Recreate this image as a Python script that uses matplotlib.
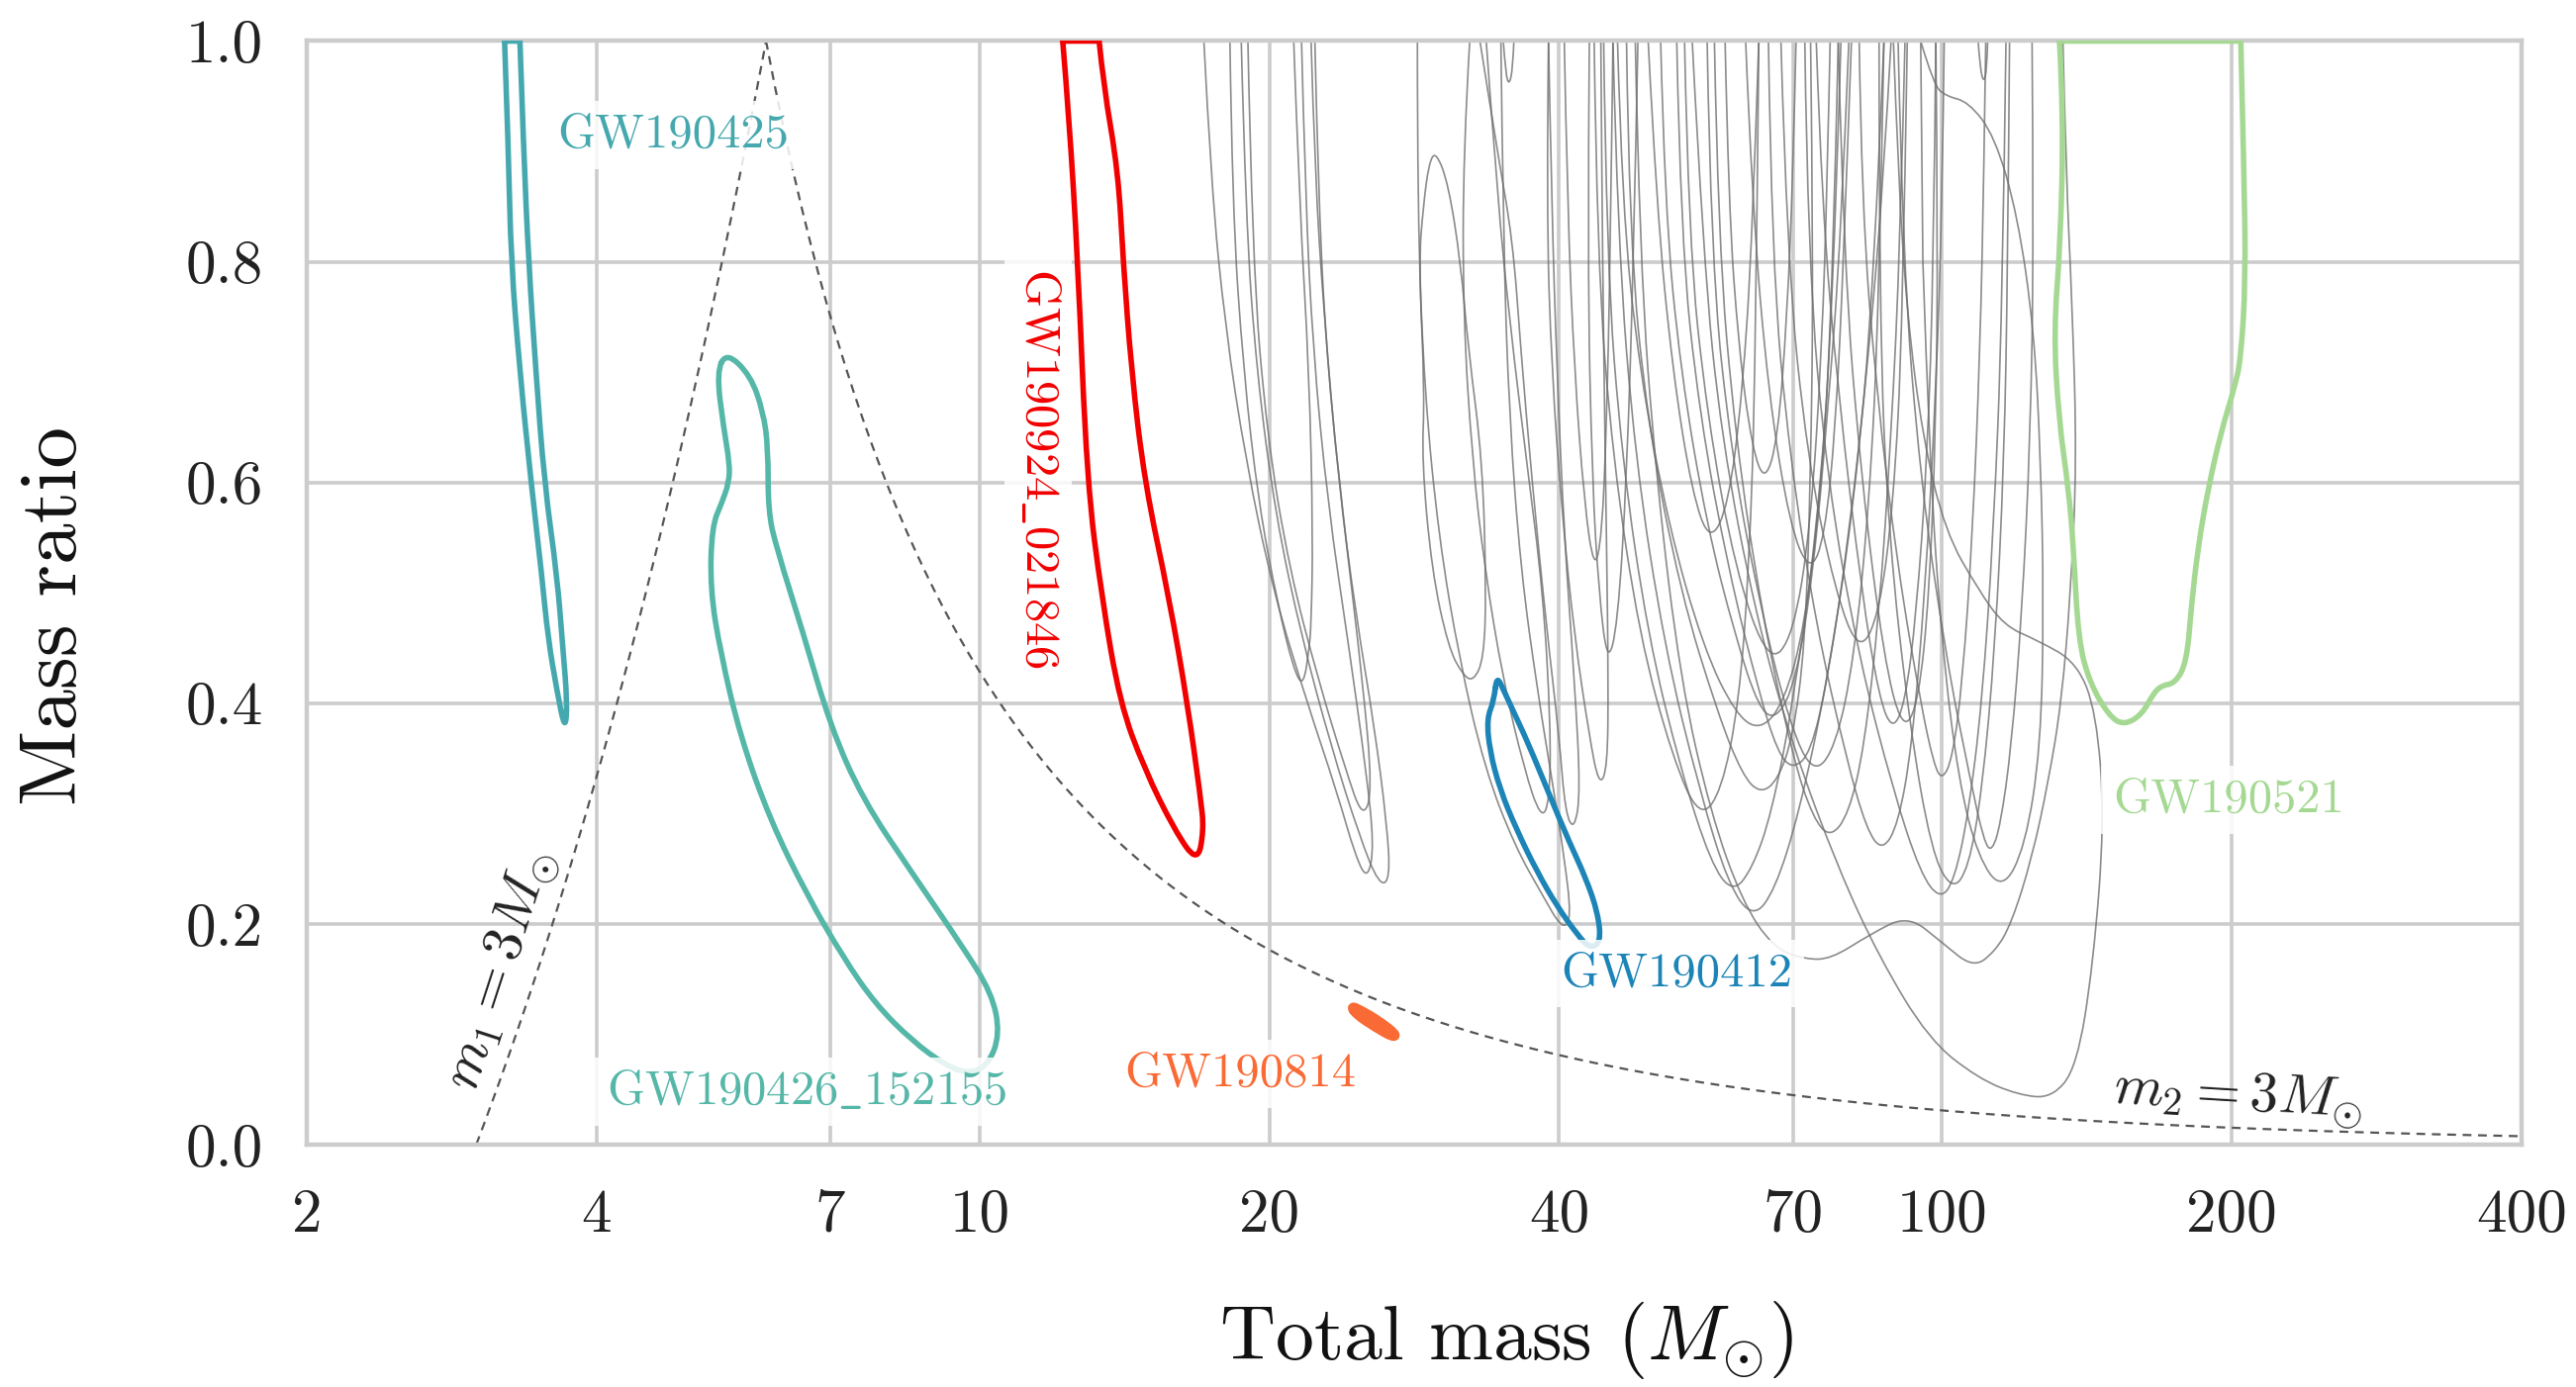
import matplotlib
matplotlib.use("Agg")
import matplotlib.pyplot as plt
import numpy as np
from matplotlib.path import Path
from matplotlib.patches import PathPatch

plt.rcParams["font.family"] = ["cmr10", "DejaVu Serif"]
plt.rcParams["mathtext.fontset"] = "cm"
plt.rcParams["axes.formatter.use_mathtext"] = True

# axis ticks
mass_ticks = [2, 4, 7, 10, 20, 40, 70, 100, 200, 400]
ratio_ticks = [0.0, 0.2, 0.4, 0.6, 0.8, 1.0]

# highlighted 90% contours, (total mass, mass ratio)
gw190425 = [(3.21, 1.0), (3.24, 0.9), (3.26, 0.8), (3.33, 0.7), (3.42, 0.6), (3.51, 0.515),
            (3.56, 0.46), (3.64, 0.41), (3.71, 0.375), (3.73, 0.40), (3.69, 0.45),
            (3.64, 0.515), (3.53, 0.6), (3.46, 0.7), (3.40, 0.8), (3.36, 0.9), (3.33, 1.0), (3.21, 1.0)]
gw190426 = [(5.46, 0.718), (5.78, 0.697), (5.96, 0.664), (6.03, 0.631), (6.03, 0.574), (6.15, 0.541),
            (6.55, 0.465), (7.0, 0.379), (7.56, 0.313), (8.51, 0.246), (9.59, 0.180), (10.30, 0.137),
            (10.50, 0.100), (10.21, 0.072), (9.74, 0.064), (9.21, 0.072), (8.51, 0.094), (7.80, 0.127),
            (7.21, 0.170), (6.61, 0.227), (6.06, 0.294), (5.64, 0.370), (5.38, 0.446), (5.25, 0.503),
            (5.27, 0.560), (5.40, 0.582), (5.49, 0.600), (5.50, 0.617), (5.42, 0.650), (5.33, 0.700),
            (5.46, 0.718)]
gw190924 = [(12.20, 1.0), (12.38, 0.934), (12.65, 0.8), (12.93, 0.6), (13.40, 0.495), (13.99, 0.4),
            (14.84, 0.340), (15.94, 0.285), (16.84, 0.255), (17.10, 0.285), (16.97, 0.314),
            (16.44, 0.4), (15.74, 0.495), (14.84, 0.6), (14.38, 0.701), (14.10, 0.8), (13.93, 0.882),
            (13.45, 0.960), (13.31, 1.0), (12.20, 1.0)]
gw190814 = [(24.3, 0.126), (25.0, 0.121), (26.0, 0.112), (27.1, 0.100), (26.9, 0.097),
            (25.8, 0.106), (24.6, 0.118), (24.3, 0.126)]
gw190412 = [(34.45, 0.425), (35.06, 0.411), (35.75, 0.395), (37.18, 0.363), (39.04, 0.318),
            (40.99, 0.274), (42.62, 0.242), (43.89, 0.210), (44.20, 0.183), (43.04, 0.178),
            (41.80, 0.190), (39.8, 0.216), (37.91, 0.248), (36.10, 0.286), (34.72, 0.322),
            (33.88, 0.357), (33.65, 0.386), (34.22, 0.402), (34.45, 0.425)]
gw190521 = [(132.4, 1.0), (133.7, 0.933), (132.7, 0.816), (130.6, 0.738), (132.1, 0.659),
            (135.3, 0.594), (136.9, 0.542), (138.5, 0.457), (142.4, 0.418), (149.2, 0.388),
            (154.6, 0.380), (161.4, 0.390), (165.5, 0.408), (169.0, 0.416), (174.6, 0.418),
            (179.5, 0.437), (181.6, 0.490), (184.5, 0.542), (188.9, 0.594), (194.9, 0.646),
            (201.1, 0.685), (204.3, 0.711), (206.7, 0.783), (205.9, 0.881), (204.3, 1.0), (132.4, 1.0)]

# other events, thin grey contours
background_contours = [
    [(17.1, 1.0), (17.4, 0.87), (18.0, 0.74), (18.9, 0.62), (20.2, 0.50), (21.9, 0.40), (23.5, 0.32),
     (24.6, 0.26), (25.3, 0.24), (25.7, 0.27), (25.2, 0.34), (24.2, 0.45), (23.0, 0.58),
     (22.2, 0.72), (21.8, 0.86), (21.6, 1.0)],
    [(18.2, 1.0), (18.3, 0.85), (18.8, 0.70), (19.5, 0.58), (20.4, 0.49), (21.2, 0.43), (21.7, 0.415),
     (22.0, 0.45), (22.1, 0.47), (22.2, 0.55), (22.0, 0.70), (21.5, 0.85), (21.2, 1.0)],
    [(18.7, 1.0), (18.9, 0.84), (19.4, 0.70), (20.3, 0.57), (21.6, 0.46), (23.2, 0.36), (24.8, 0.28),
     (26.0, 0.235), (26.7, 0.24), (26.5, 0.29), (25.7, 0.38), (24.6, 0.48), (23.6, 0.60),
     (22.8, 0.75), (22.3, 0.88), (22.1, 1.0)],
    [(19.0, 1.0), (19.2, 0.80), (19.9, 0.64), (21.0, 0.52), (22.5, 0.42), (24.0, 0.34), (25.0, 0.295),
     (25.6, 0.32), (25.0, 0.42), (24.0, 0.55), (23.0, 0.70), (22.5, 0.85), (22.3, 1.0)],
    [(29.3, 0.89), (28.9, 0.85), (28.6, 0.80), (29.0, 0.68), (28.8, 0.62), (29.5, 0.52), (30.7, 0.45),
     (31.8, 0.425), (32.6, 0.42), (33.4, 0.44), (33.6, 0.50), (33.3, 0.62), (32.2, 0.72),
     (31.6, 0.80), (30.7, 0.87), (29.8, 0.90), (29.3, 0.89)],
    [(28.5, 1.0), (28.5, 0.84), (29.0, 0.68), (30.0, 0.55), (31.5, 0.44), (33.5, 0.34), (36.0, 0.27),
     (38.5, 0.225), (40.3, 0.195), (41.2, 0.205), (40.5, 0.26), (39.5, 0.32), (38.0, 0.41),
     (36.5, 0.52), (35.5, 0.66), (35.0, 0.82), (34.8, 1.0)],
    [(32.3, 1.0), (31.8, 0.90), (31.8, 0.75), (32.5, 0.62), (33.5, 0.52), (35.0, 0.42), (36.8, 0.34),
     (38.3, 0.295), (39.1, 0.31), (39.2, 0.38), (38.5, 0.50), (37.0, 0.62), (35.6, 0.74),
     (34.5, 0.86), (33.6, 1.0)],
    [(33.1, 1.0), (34.5, 0.90), (35.8, 0.82), (36.5, 0.72), (37.5, 0.60), (38.8, 0.47), (40.0, 0.37),
     (40.6, 0.30), (41.5, 0.285), (42.1, 0.32), (41.5, 0.42), (40.5, 0.55), (39.8, 0.70),
     (39.3, 0.85), (39.0, 1.0)],
    [(35.0, 1.0), (35.2, 0.97), (35.5, 0.96), (35.8, 0.975), (35.9, 1.0)],
    [(39.0, 1.0), (38.8, 0.85), (39.3, 0.70), (40.3, 0.57), (41.5, 0.46), (43.0, 0.37), (44.0, 0.325),
     (44.9, 0.34), (45.0, 0.42), (44.8, 0.55), (44.5, 0.72), (44.3, 0.88), (44.2, 1.0)],
    [(43.0, 1.0), (42.8, 0.80), (43.3, 0.60), (44.0, 0.50), (44.9, 0.435), (46.0, 0.47), (47.0, 0.60),
     (47.8, 0.80), (48.3, 1.0)],
    [(49.5, 1.0), (50.5, 0.85), (52.5, 0.70), (55.0, 0.59), (57.4, 0.545), (60.0, 0.58), (62.0, 0.68),
     (63.5, 0.82), (64.5, 1.0)],
    [(46.0, 1.0), (46.5, 0.85), (48.5, 0.70), (52.0, 0.56), (56.5, 0.45), (61.0, 0.39), (64.7, 0.375),
     (68.5, 0.40), (72.0, 0.47), (75.0, 0.60), (77.0, 0.78), (78.0, 1.0)],
    [(51.0, 1.0), (51.5, 0.85), (53.5, 0.70), (57.0, 0.56), (61.0, 0.46), (64.5, 0.395), (67.3, 0.385),
     (70.5, 0.42), (73.5, 0.52), (76.0, 0.66), (78.5, 0.82), (80.0, 1.0)],
    [(53.0, 1.0), (53.5, 0.82), (56.0, 0.66), (60.0, 0.52), (64.5, 0.41), (67.5, 0.355), (70.0, 0.34),
     (73.0, 0.355), (76.0, 0.42), (80.0, 0.55), (84.0, 0.72), (87.0, 0.88), (88.5, 1.0)],
    [(47.0, 1.0), (47.3, 0.82), (49.5, 0.65), (53.5, 0.50), (58.5, 0.39), (62.0, 0.335), (64.7, 0.318),
     (67.5, 0.33), (70.0, 0.37), (72.0, 0.45), (73.0, 0.60), (73.5, 0.80), (73.0, 1.0)],
    [(62.5, 1.0), (63.5, 0.85), (66.0, 0.68), (69.5, 0.56), (72.9, 0.518), (75.5, 0.55), (77.5, 0.65),
     (79.0, 0.80), (80.5, 1.0)],
    [(44.5, 1.0), (44.8, 0.80), (46.5, 0.62), (49.5, 0.46), (53.5, 0.34), (57.5, 0.255), (60.6, 0.228),
     (63.5, 0.25), (66.5, 0.30), (70.0, 0.40), (74.0, 0.55), (77.0, 0.75), (78.5, 1.0)],
    [(45.5, 1.0), (46.0, 0.82), (48.0, 0.62), (51.5, 0.45), (56.0, 0.32), (60.0, 0.235), (63.6, 0.205),
     (67.0, 0.23), (71.0, 0.30), (76.0, 0.42), (81.0, 0.58), (85.0, 0.78), (87.0, 1.0)],
    [(58.0, 1.0), (58.5, 0.82), (61.0, 0.64), (65.0, 0.48), (70.0, 0.35), (73.5, 0.295), (76.6, 0.278),
     (80.0, 0.30), (83.0, 0.36), (86.0, 0.48), (88.5, 0.64), (90.5, 0.82), (91.5, 1.0)],
    [(66.0, 1.0), (66.5, 0.80), (69.5, 0.62), (74.0, 0.47), (79.5, 0.35), (83.5, 0.285), (86.7, 0.266),
     (90.0, 0.29), (93.0, 0.36), (96.0, 0.50), (98.5, 0.68), (100.0, 0.85), (100.5, 1.0)],
    [(74.0, 1.0), (75.0, 0.85), (78.0, 0.68), (82.5, 0.50), (86.0, 0.405), (88.8, 0.375), (91.5, 0.40),
     (94.0, 0.48), (96.5, 0.62), (98.0, 0.80), (98.5, 1.0)],
    [(82.0, 1.0), (82.5, 0.85), (85.5, 0.68), (90.0, 0.52), (95.0, 0.40), (98.0, 0.345), (100.0, 0.33),
     (102.5, 0.35), (105.0, 0.42), (107.5, 0.55), (109.5, 0.72), (110.5, 0.88), (111.0, 1.0)],
    [(90.0, 1.0), (91.0, 0.80), (95.0, 0.60), (101.0, 0.44), (107.0, 0.33), (110.5, 0.275),
     (112.6, 0.265), (115.0, 0.29), (118.0, 0.36), (121.0, 0.48), (123.5, 0.64), (124.5, 0.82),
     (124.0, 1.0)],
    [(72.0, 1.0), (72.5, 0.80), (76.0, 0.60), (82.0, 0.44), (89.0, 0.32), (95.0, 0.245), (99.6, 0.222),
     (103.0, 0.24), (106.5, 0.30), (110.0, 0.40), (113.0, 0.55), (115.5, 0.75), (116.5, 1.0)],
    [(78.0, 1.0), (79.0, 0.80), (82.5, 0.60), (87.0, 0.44), (91.0, 0.374), (94.5, 0.40), (97.0, 0.50),
     (98.5, 0.65), (99.0, 0.82), (98.5, 1.0)],
    [(86.0, 1.0), (86.0, 0.75), (88.0, 0.55), (92.5, 0.38), (97.5, 0.265), (102.4, 0.23),
     (106.5, 0.25), (110.0, 0.32), (113.5, 0.45), (116.0, 0.62), (117.0, 0.80), (117.5, 1.0)],
    [(55.0, 1.0), (56.5, 0.80), (59.0, 0.64), (64.0, 0.48), (70.0, 0.36), (78.0, 0.25), (86.0, 0.17),
     (96.9, 0.095), (109.0, 0.06), (120.0, 0.045), (130.0, 0.042), (138.0, 0.07), (143.5, 0.163),
     (147.5, 0.294), (144.6, 0.392), (138.0, 0.437), (125.6, 0.457), (116.0, 0.47), (109.0, 0.503),
     (100.8, 0.555), (95.5, 0.64), (92.0, 0.75), (90.0, 0.88), (89.0, 1.0)],
    [(48.0, 1.0), (48.5, 0.80), (50.5, 0.60), (53.5, 0.42), (57.5, 0.30), (62.0, 0.22), (66.8, 0.178),
     (72.0, 0.168), (76.6, 0.168), (84.0, 0.19), (92.1, 0.208), (100.0, 0.183), (107.7, 0.16),
     (113.5, 0.175), (118.0, 0.20), (124.0, 0.26), (129.0, 0.33), (133.0, 0.40), (136.0, 0.50),
     (138.0, 0.62), (136.5, 0.76), (134.5, 0.88), (133.5, 1.0)],
    [(95.0, 1.0), (98.0, 0.96), (101.0, 0.95), (106.5, 0.945), (113.4, 0.914), (119.8, 0.842),
     (124.6, 0.738), (126.6, 0.62), (127.5, 0.49), (126.6, 0.36), (122.0, 0.27), (115.5, 0.23),
     (109.0, 0.26), (104.0, 0.33), (100.0, 0.45), (97.0, 0.62), (95.5, 0.80), (95.0, 1.0)],
    [(109.0, 1.0), (109.5, 0.975), (110.5, 0.962), (111.3, 0.975), (111.5, 1.0)],
    [(57.0, 1.0), (57.5, 0.80), (60.5, 0.62), (65.0, 0.48), (69.5, 0.38), (73.5, 0.335), (77.5, 0.36),
     (81.0, 0.44), (84.0, 0.58), (86.0, 0.76), (87.0, 1.0)],
    [(54.0, 1.0), (54.5, 0.82), (57.0, 0.66), (61.0, 0.52), (66.0, 0.435), (70.0, 0.46), (73.0, 0.56),
     (75.0, 0.72), (76.0, 0.88), (76.5, 1.0)],
    [(68.0, 1.0), (69.0, 0.80), (72.5, 0.62), (77.5, 0.50), (82.0, 0.445), (86.0, 0.48), (89.0, 0.58),
     (91.0, 0.74), (92.0, 1.0)],
    [(43.5, 1.0), (43.8, 0.80), (45.5, 0.62), (48.5, 0.46), (52.5, 0.35), (56.0, 0.295), (59.0, 0.32),
     (61.5, 0.40), (63.0, 0.52), (64.0, 0.70), (64.5, 1.0)],
    [(40.5, 1.0), (40.8, 0.85), (41.5, 0.70), (42.5, 0.58), (43.5, 0.52), (44.3, 0.55), (44.8, 0.65),
     (45.2, 0.80), (45.5, 1.0)],
    [(59.5, 1.0), (60.0, 0.85), (61.5, 0.72), (63.5, 0.63), (65.5, 0.60), (67.5, 0.64), (69.0, 0.75),
     (70.0, 0.88), (70.5, 1.0)],
]

# lower limit on component mass (solar masses) for the dashed bounds
m_min = 3.0


def contour_path(pts):
    # quadratic bezier through midpoints, midpoints taken in log(M)
    lm = np.log10([p[0] for p in pts])
    q = np.array([p[1] for p in pts])
    closed = pts[0] == pts[-1]
    flat_top = closed and pts[0][1] == 1.0

    def mid(i, j):
        return (10 ** ((lm[i] + lm[j]) / 2), (q[i] + q[j]) / 2)

    def pt(i):
        return (10 ** lm[i], q[i])

    verts, codes = [], []
    if closed and not flat_top:
        n = len(pts) - 1
        verts.append(mid(n - 1, 0))
        codes.append(Path.MOVETO)
        for i in range(n):
            verts += [pt(i), mid(i, (i + 1) % n)]
            codes += [Path.CURVE3, Path.CURVE3]
    else:
        n = len(pts) - 1 if flat_top else len(pts)
        verts.append(pt(0))
        codes.append(Path.MOVETO)
        for i in range(1, n - 1):
            verts += [pt(i), mid(i, i + 1) if i < n - 2 else pt(n - 1)]
            codes += [Path.CURVE3, Path.CURVE3]
        if flat_top:
            verts.append(pt(0))
            codes.append(Path.LINETO)
    return Path(verts, codes)


fig = plt.figure(figsize=(13.015, 7.01), dpi=200)
ax = fig.add_axes([0.1191, 0.1748, 0.8598, 0.7956])
ax.set_xscale("log")
ax.set_xlim(2, 400)
ax.set_ylim(0, 1)

for c in background_contours:
    ax.add_patch(PathPatch(contour_path(c), fill=False, ec="#6e6e6e", lw=0.6,
                           alpha=0.8, zorder=2))

# dashed bounds m1 = 3, m2 = 3
m_lo = np.linspace(m_min, 2 * m_min, 50)
ax.plot(m_lo, m_lo / m_min - 1, color="#555555", lw=0.8, ls=(0, (4, 3)), zorder=2)
m_hi = np.geomspace(2 * m_min, 400, 200)
ax.plot(m_hi, m_min / (m_hi - m_min), color="#555555", lw=0.8, ls=(0, (4, 3)), zorder=2)

events = [
    (gw190425, "#45a8ae", "GW190425", (4.80, 0.915), 0),
    (gw190426, "#55b7a8", r"GW190426$\_$152155", (6.61, 0.048), 0),
    (gw190924, "#f20000", r"GW190924$\_$021846", (11.5, 0.613), -90),
    (gw190814, "#fa6a35", "GW190814", (18.65, 0.064), 0),
    (gw190412, "#1c84b6", "GW190412", (53.0, 0.155), 0),
    (gw190521, "#a5d993", "GW190521", (198.7, 0.3125), 0),
]
for pts, col, name, pos, rot in events:
    lw = 3.4 if name == "GW190814" else 2.0
    ax.add_patch(PathPatch(contour_path(pts), fill=False, ec=col, lw=lw, zorder=4,
                           capstyle="round", joinstyle="round"))
    ax.text(pos[0], pos[1], name, color=col, fontsize=17.5, rotation=rot,
            ha="center", va="center", zorder=5,
            bbox=dict(boxstyle="square,pad=0.25", fc="white", ec="none", alpha=0.85))

ax.text(3.18, 0.158, r"$m_1 = 3M_{\odot}$", fontsize=20.5, rotation=72,
        ha="center", va="center", color="#222222", zorder=5)
ax.text(202.8, 0.043, r"$m_2 = 3M_{\odot}$", fontsize=20.5, rotation=-3.5,
        ha="center", va="center", color="#222222", zorder=5)

ax.set_xticks(mass_ticks)
ax.set_xticklabels([str(t) for t in mass_ticks])
ax.xaxis.set_minor_locator(matplotlib.ticker.NullLocator())
ax.set_yticks(ratio_ticks)
ax.set_yticklabels(["%.1f" % t for t in ratio_ticks])
ax.tick_params(length=0, labelsize=22, colors="#222222")
ax.tick_params(axis="x", pad=16)
ax.tick_params(axis="y", pad=16)

ax.grid(True, color="#cccccc", lw=1.3, zorder=0)
ax.set_axisbelow(True)
for s in ax.spines.values():
    s.set_color("#cccccc")
    s.set_linewidth(1.6)

ax.set_xlabel(r"Total mass ($M_{\odot}$)", fontsize=28, color="#111111")
ax.xaxis.set_label_coords(0.5415, -0.14)
ax.set_ylabel("Mass ratio", fontsize=30, color="#111111")
ax.yaxis.set_label_coords(-0.097, 0.479)

fig.savefig("out.png", dpi=200, facecolor="white")
